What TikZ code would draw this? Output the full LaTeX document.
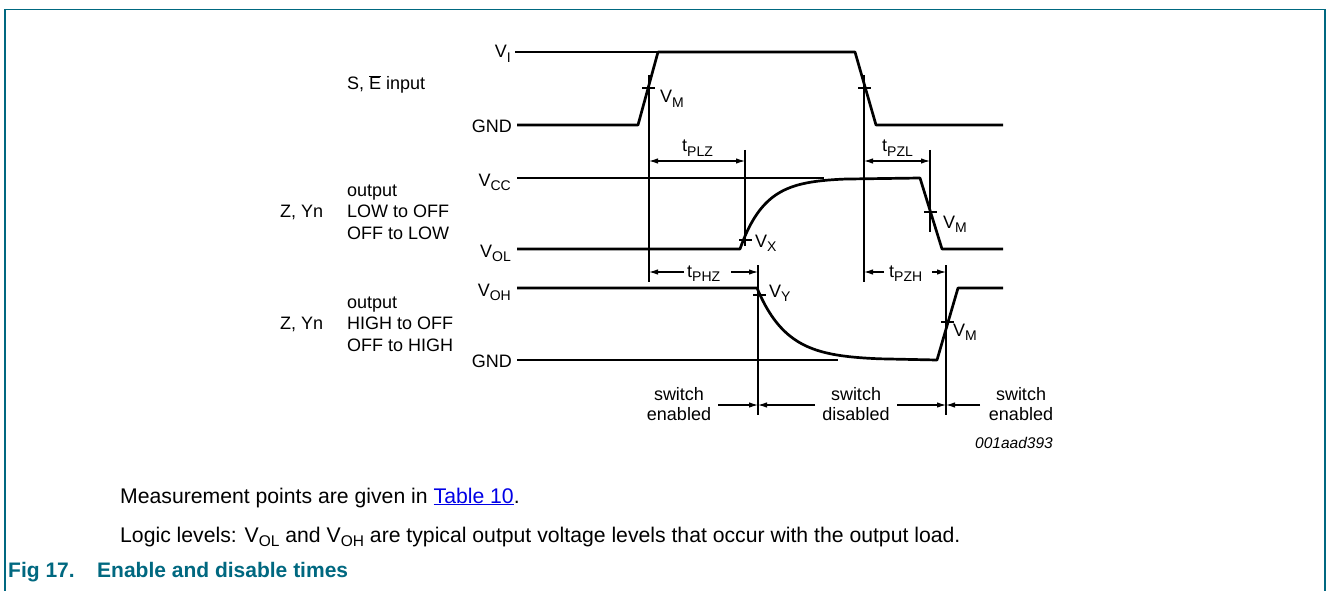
\documentclass[tikz,border=0pt]{standalone}
\usepackage{fontspec}
\setmainfont{Liberation Sans}
\usetikzlibrary{arrows.meta}
\definecolor{nxpteal}{RGB}{0,104,128}
\definecolor{linkblue}{RGB}{0,0,230}
\newcommand\dsub[1]{\raisebox{-4.5pt}{\fontsize{14}{14}\selectfont #1}}
\newcommand\csub[1]{\raisebox{-4.5pt}{\fontsize{15.5}{15.5}\selectfont #1}}
\begin{document}
\begin{tikzpicture}[x=1pt,y=-1pt,
  wave/.style={line width=2.7pt,line join=round},
  thinline/.style={line width=1.1pt},
  dimarrow/.style={line width=1.1pt,-{Latex[length=9pt,width=5.5pt]}},
  lbl/.style={font=\fontsize{18}{21}\selectfont,inner sep=0pt},
  sw/.style={font=\fontsize{18}{20}\selectfont,inner sep=0pt,align=center},
  capt/.style={font=\fontsize{21.2}{25}\selectfont,inner sep=0pt,anchor=base west},
  figt/.style={font=\fontsize{21}{25}\selectfont\bfseries,text=nxpteal,inner sep=0pt,anchor=base west},
]
\useasboundingbox (0,0) rectangle (1328,591);
% frame
\draw[nxpteal,line width=1.5pt] (5,591) -- (5,9.5) -- (1325,9.5) -- (1325,591);

% ---------- reference lines ----------
\draw[thinline] (515,52) -- (658,52);
\draw[thinline] (517,178) -- (824,178);
\draw[thinline] (517,360) -- (838,360);

% ---------- waveforms ----------
\draw[wave] (517,125) -- (638,125) -- (658,52) -- (855,52) -- (876,125) -- (1003,125);
\draw[wave] (517,249) -- (740,249) -- plot[domain=740:845,samples=60] ({\x},{249-71*(1-exp(-(\x-740)/25))}) -- (920,178) -- (942,249) -- (1003,249);
\draw[wave] (517,288) -- (757,288) -- plot[domain=757:880,samples=60] ({\x},{288+72*(1-exp(-(\x-757)/30))}) -- (937,360) -- (958,288) -- (1003,288);

% ---------- measurement verticals ----------
\coordinate (a1) at (649,75);  \coordinate (a2) at (649,282);
\coordinate (b1) at (864,75);  \coordinate (b2) at (864,282);
\coordinate (c1) at (745,150); \coordinate (c2) at (745,246);
\coordinate (d1) at (930,150); \coordinate (d2) at (930,232);
\coordinate (e1) at (758,265); \coordinate (e2) at (758,415);
\coordinate (f1) at (946,265); \coordinate (f2) at (946,415);
\draw[thinline] (a1) -- (a2);
\draw[thinline] (b1) -- (b2);
\draw[thinline] (c1) -- (c2);
\draw[thinline] (d1) -- (d2);
\draw[thinline] (e1) -- (e2);
\draw[thinline] (f1) -- (f2);

% ---------- ticks ----------
\draw[thinline] (642,88) -- (655,88);
\draw[thinline] (858,88) -- (871,88);
\draw[thinline] (739,240) -- (752,240);
\draw[thinline] (924,212) -- (937,212);
\draw[thinline] (753,295) -- (766,295);
\draw[thinline] (941,322) -- (954,322);

% ---------- level labels ----------
\node[lbl,anchor=base east] (lvi) at (511,58) {V\dsub{I}};
\node[lbl,anchor=base east] (lgnd1) at (512,132) {GND};
\node[lbl,anchor=base east] (lvcc) at (511,186) {V\dsub{CC}};
\node[lbl,anchor=base east] (lvol) at (511,257) {V\dsub{OL}};
\node[lbl,anchor=base east] (lvoh) at (511,296) {V\dsub{OH}};
\node[lbl,anchor=base east] (lgnd2) at (512,367) {GND};

% ---------- signal names ----------
\node[lbl,anchor=base west] (lsin) at (347,90) {S, $\overline{\hbox{E}}$ input};
\node[lbl,anchor=base west] (lo1a) at (347,196) {output};
\node[lbl,anchor=base west] (lo1b) at (347,217.5) {LOW to OFF};
\node[lbl,anchor=base west] (lo1c) at (347,239) {OFF to LOW};
\node[lbl,anchor=base west] (lz1) at (280,217.5) {Z, Yn};
\node[lbl,anchor=base west] (lo2a) at (347,308) {output};
\node[lbl,anchor=base west] (lo2b) at (347,329.5) {HIGH to OFF};
\node[lbl,anchor=base west] (lo2c) at (347,351) {OFF to HIGH};
\node[lbl,anchor=base west] (lz2) at (280,329.5) {Z, Yn};

% ---------- point labels ----------
\node[lbl,anchor=base west] (lvm1) at (660,103) {V\dsub{M}};
\node[lbl,anchor=base west] (lvx) at (755,247) {V\dsub{X}};
\node[lbl,anchor=base west] (lvm2) at (943,228) {V\dsub{M}};
\node[lbl,anchor=base west] (lvy) at (769,297) {V\dsub{Y}};
\node[lbl,anchor=base west] (lvm3) at (953,336) {V\dsub{M}};

% ---------- timing arrows ----------
\node[lbl,anchor=base west] (tplz) at (682,152) {t\dsub{PLZ}};
\node[lbl,anchor=base west] (tpzl) at (882,152) {t\dsub{PZL}};
\draw[dimarrow,{Latex[length=9pt,width=5.5pt]}-{Latex[length=9pt,width=5.5pt]}] (649,161) -- (745,161);
\draw[dimarrow,{Latex[length=9pt,width=5.5pt]}-{Latex[length=9pt,width=5.5pt]}] (864,161) -- (930,161);

\node[lbl,anchor=base west] (tphz) at (687,277) {t\dsub{PHZ}};
\node[lbl,anchor=base west] (tpzh) at (889,277) {t\dsub{PZH}};
\coordinate (p1) at (684,272); \coordinate (p2) at (731,272);
\coordinate (q1) at (884,272); \coordinate (q2) at (932,272);
\draw[dimarrow] (p1) -- (649,272);
\draw[dimarrow] (p2) -- (758,272);
\draw[dimarrow] (q1) -- (864,272);
\draw[dimarrow] (q2) -- (946,272);

% ---------- switch states ----------
\node[sw] (swen1) at (679,404) {switch\\enabled};
\node[sw] (swdis) at (856,404) {switch\\disabled};
\node[sw] (swen2) at (1021,404) {switch\\enabled};
\coordinate (s1) at (718,405); \coordinate (s2) at (815,405);
\coordinate (s3) at (897,405); \coordinate (s4) at (980,405);
\draw[dimarrow] (s1) -- (758,405);
\draw[dimarrow] (s2) -- (758,405);
\draw[dimarrow] (s3) -- (946,405);
\draw[dimarrow] (s4) -- (946,405);

\node[font=\fontsize{15.5}{18}\selectfont\itshape,inner sep=0pt,anchor=base east] (code) at (1053,448) {001aad393};

% ---------- caption ----------
\node[capt] (m1) at (120,503) {Measurement points are given in {\color{linkblue}\underline{Table 10}}.};
\node[capt] (m2) at (120,542) {Logic levels: V\csub{OL} and V\csub{OH} are typical output voltage levels that occur with the output load.};
\node[figt] (fig) at (8,577) {Fig 17.};
\node[figt] (figtitle) at (97,577) {Enable and disable times};
\end{tikzpicture}
\end{document}
